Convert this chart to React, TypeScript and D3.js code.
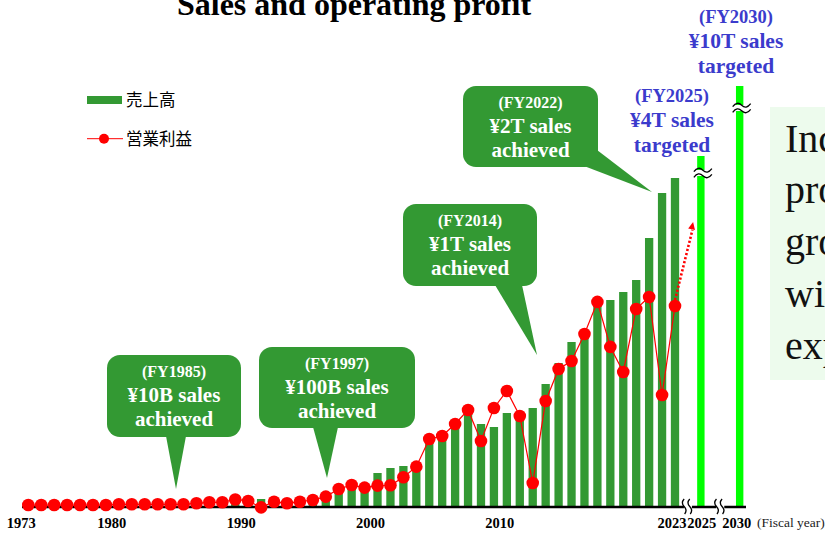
import React from "react";
import * as d3 from "d3";

// fiscal years 1973..2023
const years = d3.range(1973, 2024);

// sales, ¥ billion
const sales = [
  0.6, 0.8, 1.0, 1.4, 1.9, 2.5, 3.2, 4.1, 5.0, 6.0, 7.1, 8.5, 10, 12.5, 16, 22, 30, 38,
  56, 42, 40, 42, 45, 49, 105, 133, 119, 238, 273, 287, 315, 448, 469, 560, 658, 581,
  560, 658, 644, 693, 861, 1008, 1155, 1218, 1435, 1449, 1505, 1589, 1883, 2198, 2303,
];

// operating profit, ¥ billion
const profit = [
  1.6, 1.6, 1.6, 1.6, 1.6, 1.6, 1.6, 2.2, 2.2, 2.2, 2.2, 2.2, 2.2, 3.0, 3.8, 3.8, 6.1,
  4.9, -0.3, 4.3, 3.0, 4.3, 5.7, 8.4, 14.6, 17.8, 15.7, 17.3, 17.6, 24.1, 32.7, 55.1,
  57.6, 67.3, 78.7, 53.5, 80.3, 94.1, 73.8, 19.5, 86.0, 111.9, 118.4, 140.3, 166.3,
  129.8, 109.5, 160.6, 170.3, 90.8, 163.0,
];

// sales targets (drawn on a broken axis)
const targetYears = [2025, 2030];
const targetDrawn = [2457, 2947];
const targetBreakAt = [2338, 2793];
const targetFY = ["(FY2025)", "(FY2030)"];
const targetText = ["¥4T sales", "¥10T sales"];

const milestoneFY = ["(FY1985)", "(FY1997)", "(FY2014)", "(FY2022)"];
const milestoneText = ["¥10B sales", "¥100B sales", "¥1T sales", "¥2T sales"];

const tickYears = [1973, 1980, 1990, 2000, 2010, 2023, 2025, 2030];
const legendLabels = ["売上高", "営業利益"];
const sideLines = ["Increase", "profitable", "growth", "with", "expansion"];

// where the dotted arrow after FY2023 points to
const arrowTo = { year: 2024.4, profit: 231 };

const W = 825;
const H = 535;
const base = 507;
const serif = "'Liberation Serif', 'Times New Roman', serif";
const green = "#339933";
const lime = "#00ff00";
const blue = "#3b3bcc";

// callout boxes (layout only)
const boxes = [
  { x: 107, y: 355, w: 134, h: 82, tail: [[166, 436], [176, 489], [186, 436]] },
  { x: 259, y: 347, w: 156, h: 81, tail: [[313, 427], [327, 478], [338, 427]] },
  { x: 403, y: 204, w: 134, h: 82, tail: [[495, 285], [537, 355], [522, 285]] },
  { x: 463, y: 86, w: 135, h: 81, tail: [[584, 166], [652, 192], [597, 150]] },
];

const x = d3.scaleLinear().domain([1973, 2023]).range([28.3, 675]);
// after FY2025 the axis is compressed
const xPos = (yr: number) => (yr <= 2025 ? x(yr) : x(2025) + (x(yr) - x(2025)) * 0.6);
const ySales = d3.scaleLinear().domain([0, 2400]).range([base, base - 2400 / 7]);
const yProfit = d3.scaleLinear().domain([0, 270]).range([base, base - 333]);

const barW = 8.3;

const BarBreak = ({ cx, cy }: { cx: number; cy: number }) => (
  <g>
    <rect x={cx - 6} y={cy - 3} width={12} height={6} fill="white" />
    {[-2.8, 2.8].map((d) => (
      <path
        key={d}
        d={`M${cx - 9},${cy + d + 1.5} q 4.5,-6 9,-1.5 q 4.5,4.5 9,-1.5`}
        fill="none"
        stroke="black"
        strokeWidth={1.3}
      />
    ))}
  </g>
);

const AxisBreak = ({ cx }: { cx: number }) => (
  <g>
    <rect x={cx - 4} y={base - 3} width={8} height={6} fill="white" />
    {[-2.8, 2.8].map((d) => (
      <path
        key={d}
        d={`M${cx + d - 1},${base - 8} q -3.5,3.8 0,7.5 q 3.5,3.8 0.5,7.5`}
        fill="none"
        stroke="black"
        strokeWidth={1.3}
      />
    ))}
  </g>
);

export default function App() {
  const line = d3
    .line<number>()
    .x((_, i) => x(years[i]))
    .y((d) => yProfit(d));

  const last = years.length - 1;
  const ax0 = x(years[last]);
  const ay0 = yProfit(profit[last]);
  const ax1 = x(arrowTo.year);
  const ay1 = yProfit(arrowTo.profit);
  const ang = Math.atan2(ay1 - ay0, ax1 - ax0);
  const head = 8;
  const hx = (a: number) => ax1 - head * Math.cos(ang + a);
  const hy = (a: number) => ay1 - head * Math.sin(ang + a);

  return (
    <svg
      width={W}
      height={H}
      style={{ position: "absolute", left: 0, top: 0, background: "white" }}
    >
      {/* title */}
      <text x={354} y={15} textAnchor="middle" fontFamily={serif} fontWeight="bold" fontSize={32}>
        Sales and operating profit
      </text>

      {/* side note box */}
      <rect x={770} y={107} width={60} height={273} fill="#edfbed" />
      {sideLines.map((t, i) => (
        <text key={t} x={785} y={151.7 + i * 51.7} fontFamily={serif} fontSize={40} fill="#111">
          {t}
        </text>
      ))}

      {/* sales bars */}
      {sales.map((v, i) => (
        <rect
          key={years[i]}
          x={x(years[i]) - barW / 2}
          y={ySales(v)}
          width={barW}
          height={base - ySales(v)}
          fill={green}
        />
      ))}

      {/* target bars */}
      {targetYears.map((yr, i) => (
        <g key={yr}>
          <rect
            x={xPos(yr) - 3.7}
            y={ySales(targetDrawn[i])}
            width={7.4}
            height={base - ySales(targetDrawn[i])}
            fill={lime}
          />
          <BarBreak cx={xPos(yr) + 2} cy={ySales(targetBreakAt[i])} />
        </g>
      ))}

      {/* axis */}
      <line x1={22} x2={746} y1={base} y2={base} stroke="black" strokeWidth={2.6} />
      <AxisBreak cx={x(2024)} />
      <AxisBreak cx={(xPos(2025) + xPos(2030)) / 2} />
      {tickYears.map((yr) => (
        <text
          key={yr}
          x={xPos(yr) - (yr < 2023 ? 7 : yr === 2025 ? -1 : 3)}
          y={528}
          textAnchor="middle"
          fontFamily={serif}
          fontWeight="bold"
          fontSize={14.5}
        >
          {yr}
        </text>
      ))}
      <text x={757} y={527} fontFamily={serif} fontSize={13.5} fill="#222">
        (Fiscal year)
      </text>

      {/* operating profit */}
      <path d={line(profit) || ""} fill="none" stroke="#ff0000" strokeWidth={1.2} />
      {profit.map((v, i) => (
        <circle key={years[i]} cx={x(years[i])} cy={yProfit(v)} r={6.3} fill="#ff0000" />
      ))}
      <line
        x1={ax0}
        y1={ay0 - 6}
        x2={hx(0) + 1}
        y2={hy(0)}
        stroke="#ff0000"
        strokeWidth={2.6}
        strokeDasharray="2.2,2"
      />
      <path
        d={`M${ax1},${ay1} L${hx(0.45)},${hy(0.45)} L${hx(-0.45)},${hy(-0.45)} Z`}
        fill="#ff0000"
      />

      {/* milestone callouts */}
      {boxes.map((b, i) => (
        <g key={milestoneFY[i]}>
          <rect x={b.x} y={b.y} width={b.w} height={b.h} rx={13} fill={green} />
          <path d={`M${b.tail.map((p) => p.join(",")).join(" L")} Z`} fill={green} />
          <g fontFamily={serif} fontWeight="bold" fill="white" textAnchor="middle">
            <text x={b.x + b.w / 2} y={b.y + 22} fontSize={16}>
              {milestoneFY[i]}
            </text>
            <text x={b.x + b.w / 2} y={b.y + 46.5} fontSize={21}>
              {milestoneText[i]}
            </text>
            <text x={b.x + b.w / 2} y={b.y + 71} fontSize={21}>
              achieved
            </text>
          </g>
        </g>
      ))}

      {/* target labels */}
      {[
        { cx: 672, top: 101.7 },
        { cx: 736, top: 22.7 },
      ].map((p, i) => (
        <g key={targetFY[i]} fontFamily={serif} fontWeight="bold" fill={blue} textAnchor="middle">
          <text x={p.cx} y={p.top} fontSize={18.5}>
            {targetFY[i]}
          </text>
          <text x={p.cx} y={p.top + 25} fontSize={21.5}>
            {targetText[i]}
          </text>
          <text x={p.cx} y={p.top + 50} fontSize={21.5}>
            targeted
          </text>
        </g>
      ))}

      {/* legend */}
      <rect x={87} y={96} width={35} height={8} fill={green} />
      <text x={126} y={106} fontFamily="'Noto Sans CJK JP', sans-serif" fontSize={16.5}>
        {legendLabels[0]}
      </text>
      <line x1={87} x2={123} y1={138.7} y2={138.7} stroke="#ff0000" strokeWidth={1} />
      <circle cx={104} cy={138.7} r={5} fill="#ff0000" />
      <text x={126} y={144.5} fontFamily="'Noto Sans CJK JP', sans-serif" fontSize={16.5}>
        {legendLabels[1]}
      </text>
    </svg>
  );
}
